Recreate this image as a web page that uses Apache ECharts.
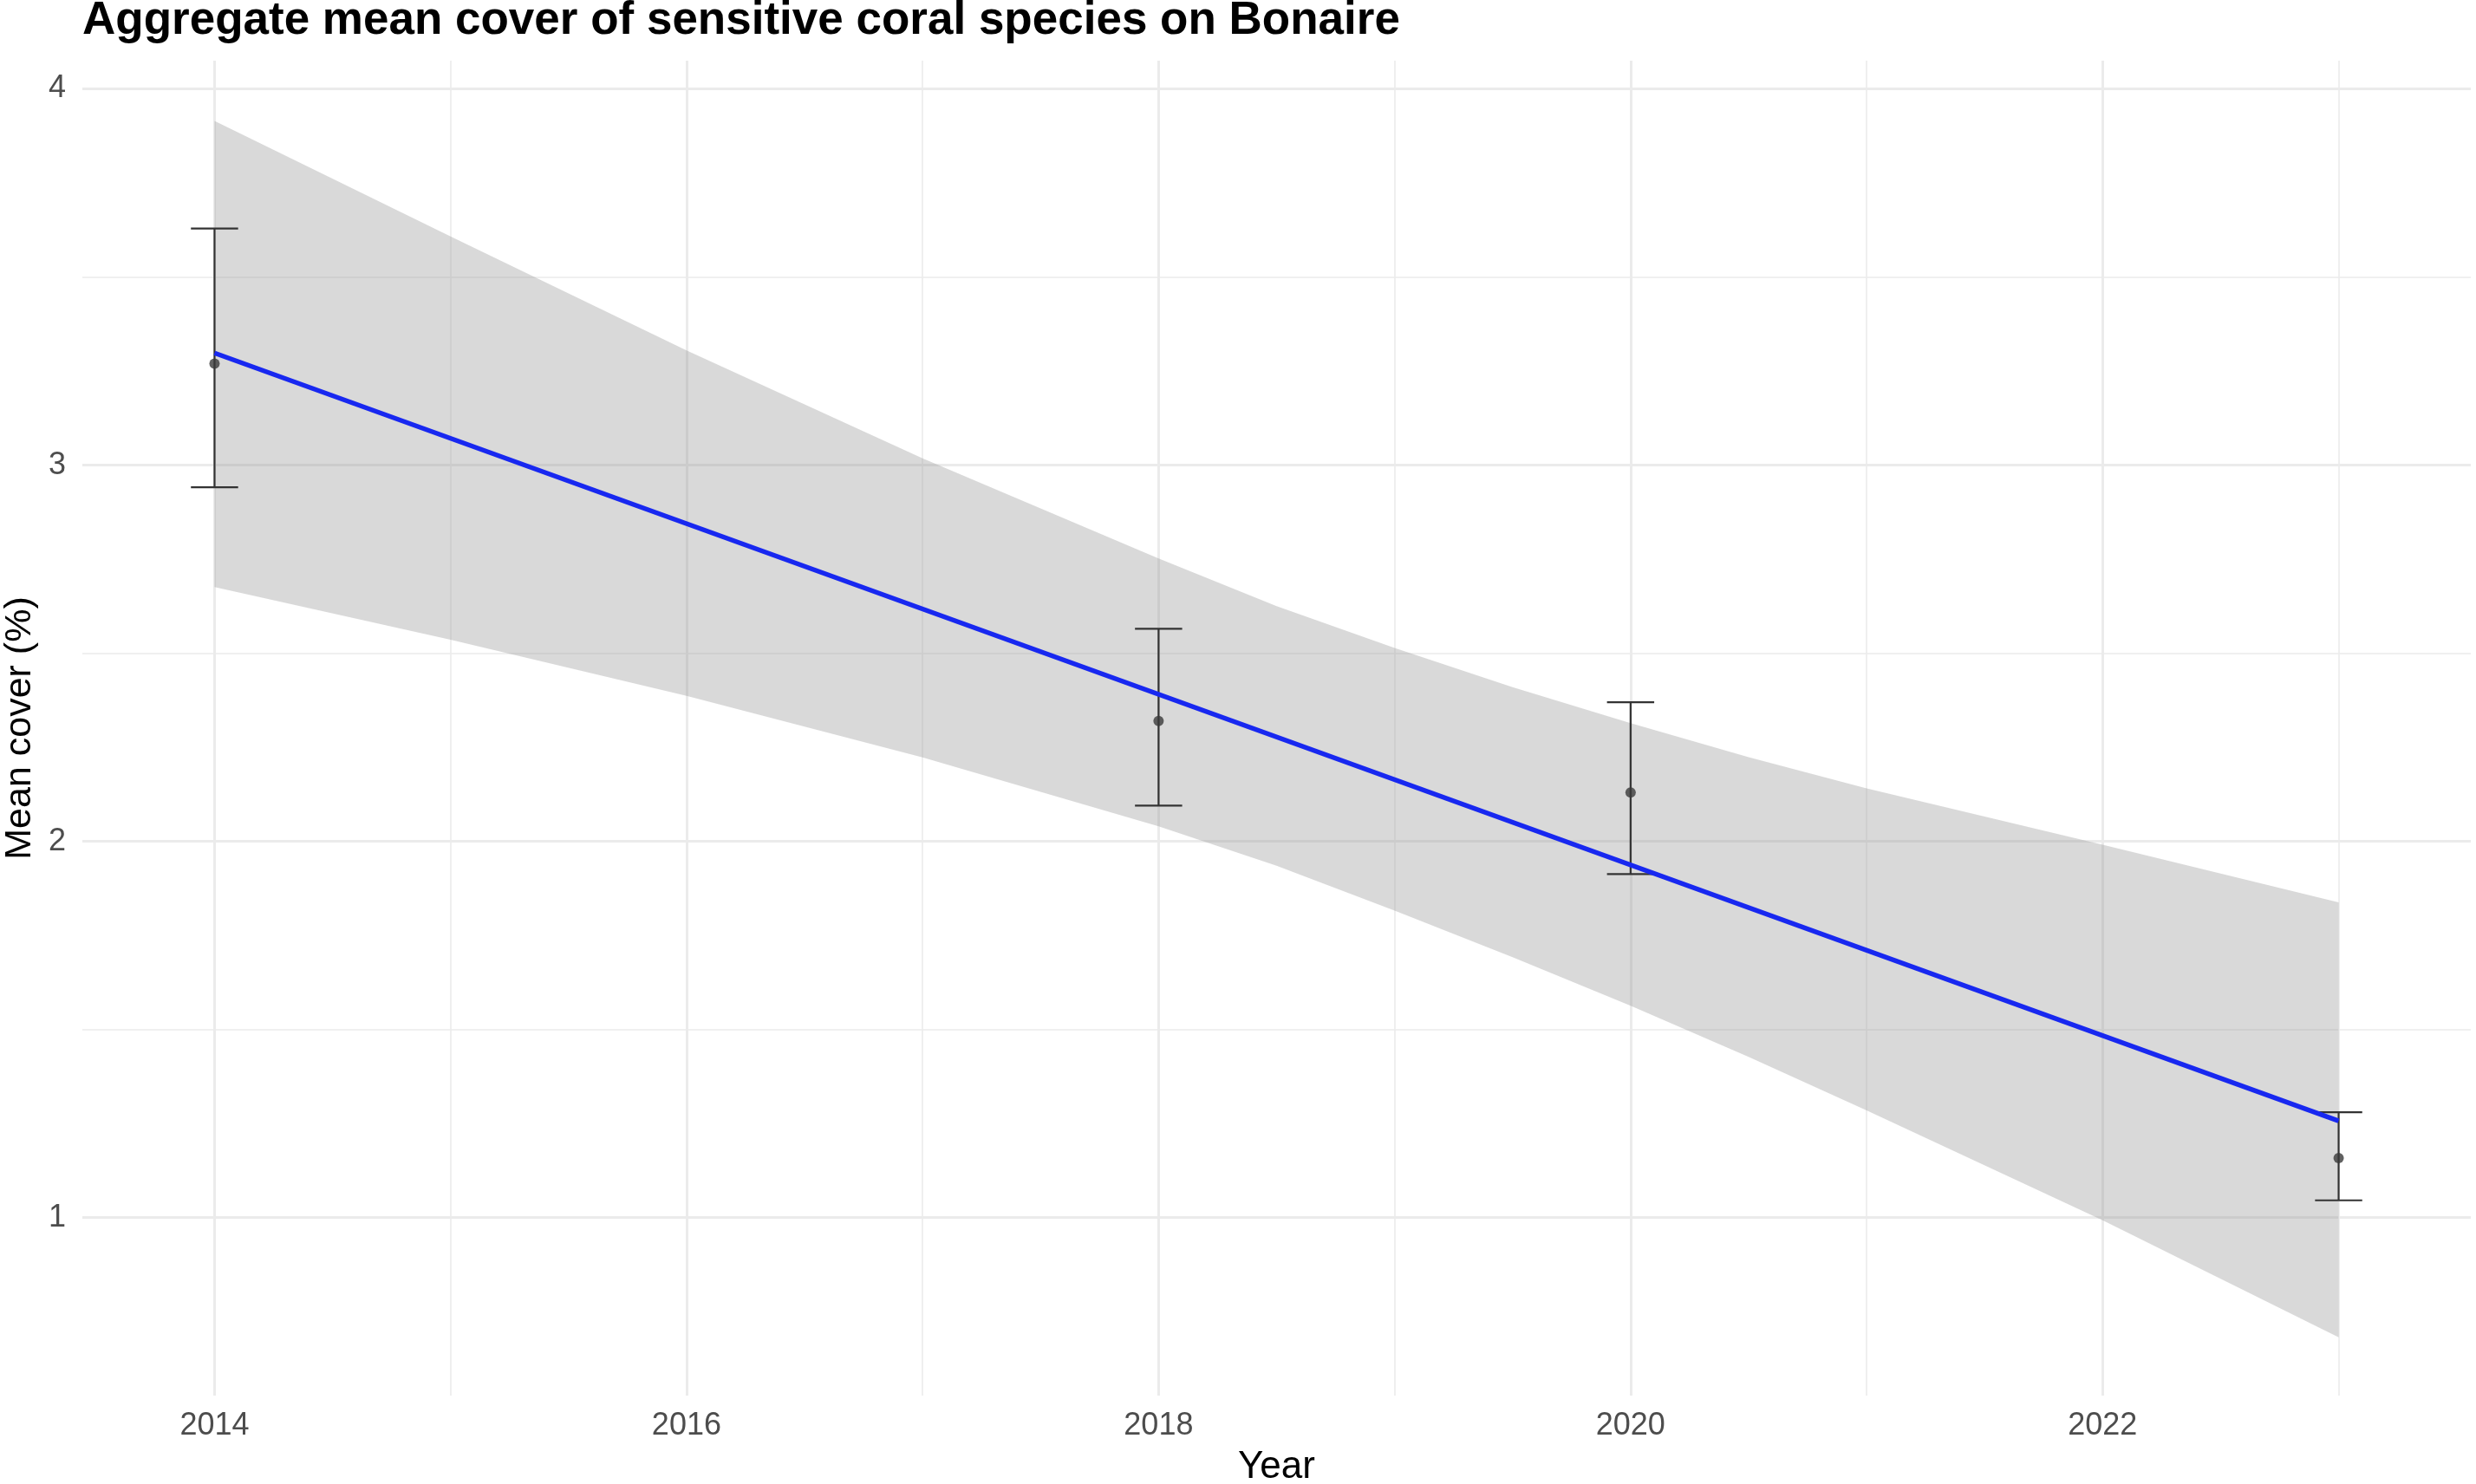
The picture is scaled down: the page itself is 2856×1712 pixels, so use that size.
<!DOCTYPE html>
<html lang="en">
<head>
<meta charset="UTF-8">
<title>Sensitive coral cover on Bonaire</title>
<script src="https://cdn.jsdelivr.net/npm/echarts@6/dist/echarts.min.js"></script>
<style>
    html, body { margin: 0; padding: 0; background: #fff; }
    #main { width: 2856px; height: 1712px; }
</style>
</head>
<body>
<div id="main"></div>
<script type="text/javascript">
// survey means and error bar limits
var years = [2014, 2018, 2020, 2023];
var meanCover = [3.27, 2.32, 2.13, 1.158];
var lowerBar = [2.941, 2.095, 1.913, 1.046];
var upperBar = [3.629, 2.565, 2.370, 1.280];

// linear trend, read at both ends
var fitYears = [2014, 2023];
var fitValues = [3.298, 1.257];

// grey confidence band (half years where it bends most)
var bandYears = [2014, 2015, 2016, 2017, 2018, 2018.5, 2019, 2019.5, 2020, 2020.5, 2021, 2022, 2023];
var bandUpper = [3.915, 3.608, 3.305, 3.018, 2.752, 2.625, 2.514, 2.410, 2.314, 2.224, 2.141, 1.991, 1.838];
var bandLower = [2.676, 2.536, 2.387, 2.223, 2.040, 1.935, 1.816, 1.692, 1.563, 1.427, 1.285, 0.993, 0.682];

// gridlines / tick labels
var xMajor = [2014, 2016, 2018, 2020, 2022];
var xMinor = [2015, 2017, 2019, 2021, 2023];
var yMajor = [1, 2, 3, 4];
var yMinor = [1.5, 2.5, 3.5];

var xMin = 2013.44, xMax = 2023.56;
var yMin = 0.527, yMax = 4.075;

var font = 'Liberation Sans, Arial, sans-serif';
var gridColor = '#EBEBEB';
var tickColor = '#4D4D4D';

var chart = echarts.init(document.getElementById('main'));

var plain = function (v) { return String(v); };

var option = {
    backgroundColor: '#ffffff',
    animation: false,
    title: {
        text: 'Aggregate mean cover of sensitive coral species on Bonaire',
        left: 95,
        top: -2,
        padding: 0,
        textStyle: { fontFamily: font, fontWeight: 'bold', fontSize: 53, color: '#000' }
    },
    grid: { left: 95, right: 6, top: 70, bottom: 102, containLabel: false, outerBoundsMode: 'none' },
    xAxis: [
        {
            type: 'value', min: xMin, max: xMax,
            name: 'Year', nameLocation: 'middle', nameGap: 61,
            nameTextStyle: { fontFamily: font, fontSize: 44, color: '#000' },
            axisLine: { show: false },
            axisTick: { show: false, customValues: xMajor },
            axisLabel: { customValues: xMajor, formatter: plain, margin: 17,
                fontFamily: font, fontSize: 36, color: tickColor },
            splitLine: { show: true, lineStyle: { color: gridColor, width: 3 } }
        },
        {
            type: 'value', min: xMin, max: xMax,
            axisLine: { show: false },
            axisTick: { show: false, customValues: xMinor },
            axisLabel: { show: false },
            splitLine: { show: true, lineStyle: { color: gridColor, width: 1.6 } }
        }
    ],
    yAxis: [
        {
            type: 'value', min: yMin, max: yMax,
            name: 'Mean cover (%)', nameLocation: 'middle', nameGap: 45,
            nameTextStyle: { fontFamily: font, fontSize: 43, color: '#000' },
            axisLine: { show: false },
            axisTick: { show: false, customValues: yMajor },
            axisLabel: { customValues: yMajor, formatter: plain, margin: 19,
                fontFamily: font, fontSize: 36, color: tickColor },
            splitLine: { show: true, lineStyle: { color: gridColor, width: 3 } }
        },
        {
            type: 'value', min: yMin, max: yMax,
            axisLine: { show: false },
            axisTick: { show: false, customValues: yMinor },
            axisLabel: { show: false },
            splitLine: { show: true, lineStyle: { color: gridColor, width: 1.6 } }
        }
    ],
    series: [
        {
            // confidence ribbon as one polygon
            type: 'custom',
            silent: true,
            data: bandYears.map(function (y, i) { return [y, bandLower[i], bandUpper[i]]; }),
            encode: { x: 0, y: [1, 2] },
            renderItem: function (params, api) {
                if (params.dataIndex !== 0) return null;
                var pts = [];
                for (var i = 0; i < bandYears.length; i++) {
                    pts.push(api.coord([bandYears[i], bandUpper[i]]));
                }
                for (var j = bandYears.length - 1; j >= 0; j--) {
                    pts.push(api.coord([bandYears[j], bandLower[j]]));
                }
                return {
                    type: 'polygon',
                    shape: { points: pts },
                    style: { fill: '#999999', opacity: 0.37 }
                };
            },
            z: 2
        },
        {
            // error bars
            type: 'custom',
            silent: true,
            data: years.map(function (y, i) { return [y, lowerBar[i], upperBar[i]]; }),
            encode: { x: 0, y: [1, 2] },
            renderItem: function (params, api) {
                var x = api.value(0);
                var lo = api.coord([x, api.value(1)]);
                var hi = api.coord([x, api.value(2)]);
                var half = api.size([0.1, 0])[0];
                var st = { stroke: '#333333', lineWidth: 2.2 };
                return {
                    type: 'group',
                    children: [
                        { type: 'line', shape: { x1: lo[0], y1: lo[1], x2: hi[0], y2: hi[1] }, style: st },
                        { type: 'line', shape: { x1: hi[0] - half, y1: hi[1], x2: hi[0] + half, y2: hi[1] }, style: st },
                        { type: 'line', shape: { x1: lo[0] - half, y1: lo[1], x2: lo[0] + half, y2: lo[1] }, style: st }
                    ]
                };
            },
            z: 3
        },
        {
            type: 'scatter',
            silent: true,
            data: years.map(function (y, i) { return [y, meanCover[i]]; }),
            symbol: 'circle',
            symbolSize: 12,
            itemStyle: { color: '#3a3a3a' },
            z: 4
        },
        {
            type: 'line',
            silent: true,
            data: fitYears.map(function (y, i) { return [y, fitValues[i]]; }),
            showSymbol: false,
            lineStyle: { color: '#1828F0', width: 5.5 },
            z: 5
        }
    ]
};

chart.setOption(option);
</script>
</body>
</html>
